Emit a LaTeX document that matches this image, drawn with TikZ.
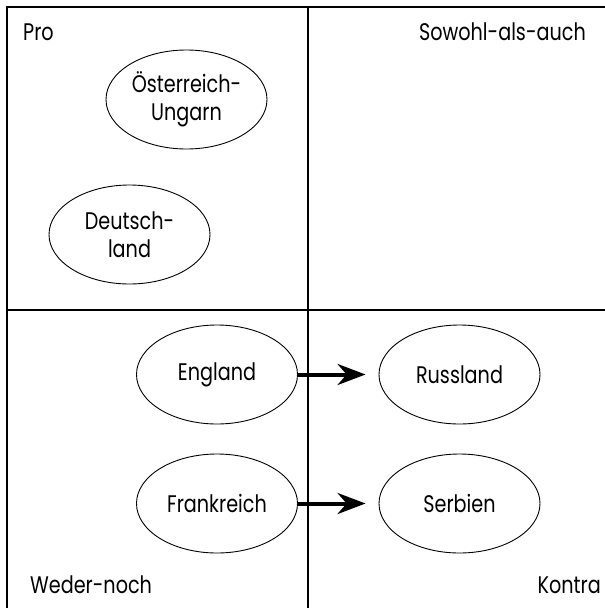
\documentclass[tikz,border=0pt]{standalone}
\usepackage{fontspec}
\setmainfont{Poppins}[FakeStretch=0.8]
\usetikzlibrary{arrows.meta,shapes.geometric}

\begin{document}
\begin{tikzpicture}[x=1pt,y=-1pt,
    land/.style={draw,ellipse,line width=0.9pt,minimum width=161pt,minimum height=99pt,
      inner sep=0pt,align=center,font=\fontsize{24}{28}\selectfont},
    feld/.style={inner sep=0pt,font=\fontsize{24}{28}\selectfont},
    pfeil/.style={line width=4pt,-{Stealth[length=28pt,width=21pt]},shorten >=13pt}]

  \useasboundingbox (0,0) rectangle (605,608);

  % Quadrants
  \draw[line width=2pt] (7,608) -- (7,7) -- (605,7);
  \draw[line width=2pt] (308,7) -- (308,608);
  \draw[line width=2pt] (7,310) -- (605,310);

  % Labels
  \node[feld,anchor=base west] (pro) at (23,40.7) {Pro};
  \node[feld,anchor=base east] (sowohl) at (586,40.7) {Sowohl-als-auch};
  \node[feld,anchor=base west] (weder) at (30,593) {Weder-noch};
  \node[feld,anchor=base east] (kontra) at (601,593) {Kontra};

  % Countries
  \node[land] (oesterreich) at (186.5,99.5) {Österreich-\\Ungarn};
  \node[land] (deutschland) at (129.5,234.5) {Deutsch-\\land};
  \node[land] (england) at (217,374.5) {England};
  \node[land] (frankreich) at (217,503.5) {Frankreich};
  \node[land] (russland) at (459.5,374.5) {Russland};
  \node[land] (serbien) at (459.5,503.5) {Serbien};

  % Arrows
  \draw[pfeil] (england) -- (russland);
  \draw[pfeil] (frankreich) -- (serbien);

\end{tikzpicture}
\end{document}
